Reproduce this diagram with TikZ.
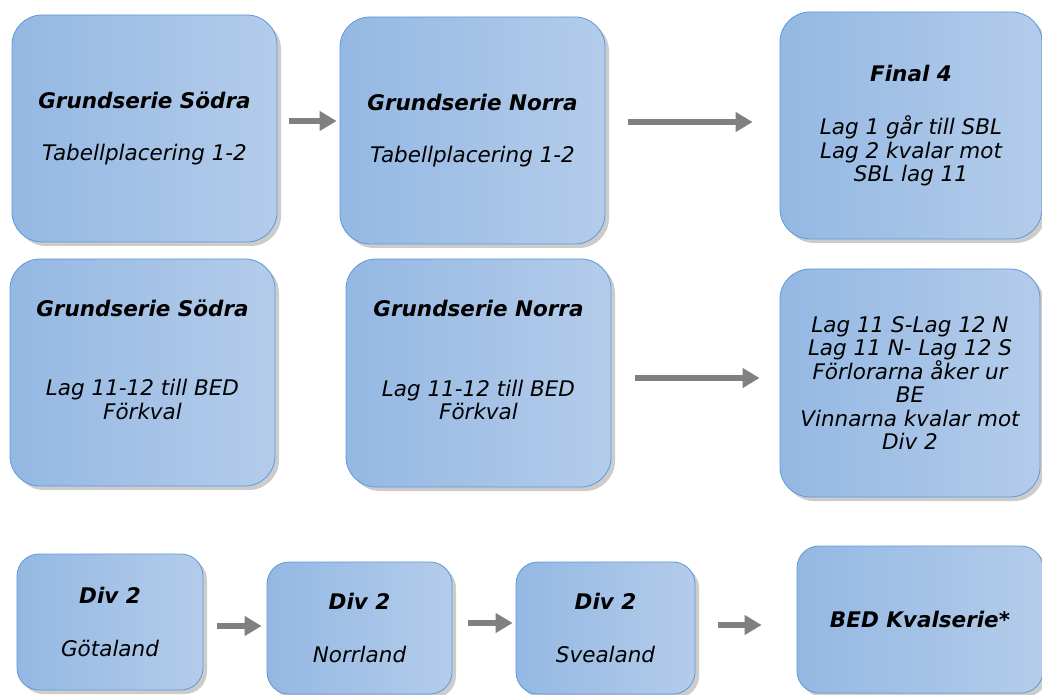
\documentclass[tikz,border=0pt]{standalone}
\usepackage{fontspec}
\setmainfont{DejaVu Sans}
\usetikzlibrary{positioning}
\usetikzlibrary{shadows}
\usetikzlibrary{arrows.meta}
\definecolor{boxleft}{RGB}{148,184,227}
\definecolor{boxright}{RGB}{180,204,234}
\definecolor{boxline}{RGB}{91,155,213}
\definecolor{flowgray}{RGB}{128,128,128}

\begin{document}
\begin{tikzpicture}[x=1pt, y=-1pt,
    stage/.style={draw=boxline, line width=0.8pt, rounded corners=30pt,
        left color=boxleft, right color=boxright,
        drop shadow={shadow xshift=4pt, shadow yshift=-4pt, opacity=0.4},
        inner sep=0pt, align=center, font=\fontsize{21.5}{23.5}\selectfont\itshape},
    bigstage/.style={stage, minimum width=265pt, minimum height=227pt},
    smallstage/.style={stage, rounded corners=22pt},
    boxtext/.style={align=center, font=\fontsize{21.5}{23.5}\selectfont\itshape},
    flow/.style={draw=flowgray, line width=6pt, -{Triangle[length=17pt, width=19pt]}}]

    \useasboundingbox (0,0) rectangle (1042,695);

    % top row
    \node(sodra)[bigstage] at (144.5,128.5){\textbf{Grundserie Södra}\\[29pt]Tabellplacering 1-2};
    \node(norra)[bigstage] at (472.5,130.5){\textbf{Grundserie Norra}\\[29pt]Tabellplacering 1-2};
    \node(final)[bigstage, minimum width=262pt] at (911,125.5){\textbf{Final 4}\\[30pt]Lag 1 går till SBL\\Lag 2 kvalar mot\\SBL lag 11};

    \draw[flow, shorten <=12pt, shorten >=3pt] ([yshift=7.5pt]sodra.east) -- ([yshift=9.5pt]norra.west);
    \draw[flow, shorten <=23pt, shorten >=27pt] ([yshift=8.5pt]norra.east) -- ([yshift=3.5pt]final.west);

    % middle row
    \node(sodrab)[bigstage] at (142.5,372.5){};
    \node(sodrabt)[boxtext, font=\fontsize{21.5}{23.5}\selectfont\itshape\bfseries] at ([yshift=64pt]sodrab.center){Grundserie Södra};
    \node(sodrabs)[boxtext] at ([yshift=-27pt]sodrab.center){Lag 11-12 till BED\\Förkval};

    \node(norrab)[bigstage, minimum height=228pt] at (478.5,373){};
    \node(norrabt)[boxtext, font=\fontsize{21.5}{23.5}\selectfont\itshape\bfseries] at ([yshift=65pt]norrab.center){Grundserie Norra};
    \node(norrabs)[boxtext] at ([yshift=-27pt]norrab.center){Lag 11-12 till BED\\Förkval};

    \node(lag)[bigstage, minimum width=260pt, minimum height=228pt] at (910,383){Lag 11 S-Lag 12 N\\Lag 11 N- Lag 12 S\\Förlorarna åker ur\\BE\\Vinnarna kvalar mot\\Div 2};

    \draw[flow, shorten <=24pt, shorten >=20pt] ([yshift=-5pt]norrab.east) -- ([yshift=5pt]lag.west);

    % bottom row
    \node(gota)[smallstage, minimum width=186pt, minimum height=136pt] at (110,622){\textbf{Div 2}\\[29pt]Götaland};
    \node(norr)[smallstage, minimum width=185pt, minimum height=132pt] at (359.5,628){\textbf{Div 2}\\[29pt]Norrland};
    \node(svea)[smallstage, minimum width=179pt, minimum height=132pt] at (605.5,628){\textbf{Div 2}\\[29pt]Svealand};
    \node(bed)[smallstage, minimum width=246pt, minimum height=147pt] at (920,619.5){\textbf{BED Kvalserie*}};

    \draw[flow, shorten <=14pt, shorten >=5pt] ([yshift=-4pt]gota.east) -- ([yshift=2pt]norr.west);
    \draw[flow, shorten <=16pt, shorten >=3pt] ([yshift=5pt]norr.east) -- ([yshift=5pt]svea.west);
    \draw[flow, shorten <=23pt, shorten >=35pt] ([yshift=3pt]svea.east) -- ([yshift=-5.5pt]bed.west);

\end{tikzpicture}
\end{document}
